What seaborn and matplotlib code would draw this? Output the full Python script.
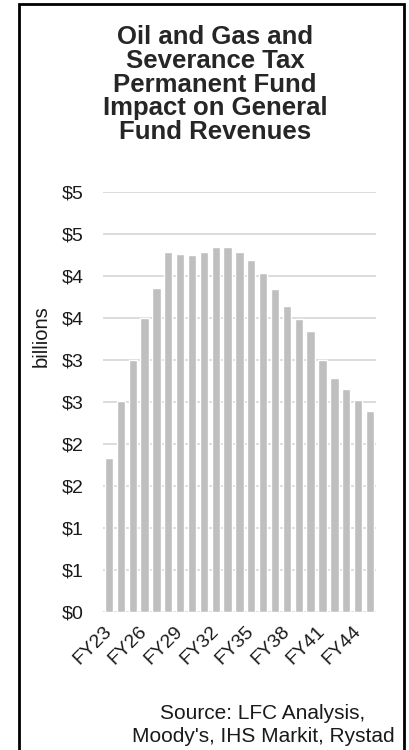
import math

import matplotlib.pyplot as plt
import matplotlib.patches as patches
from matplotlib.ticker import FuncFormatter
import pandas as pd
import seaborn as sns

years = ["FY" + str(y) for y in range(23, 46)]
revenue = [1.83, 2.51, 3.00, 3.50, 3.86, 4.29, 4.26, 4.25, 4.29, 4.34, 4.35, 4.29,
           4.19, 4.04, 3.84, 3.64, 3.49, 3.35, 3.00, 2.79, 2.65, 2.52, 2.39]
shown_years = ["FY23", "FY26", "FY29", "FY32", "FY35", "FY38", "FY41", "FY44"]

df = pd.DataFrame({"year": years, "revenue": revenue})

sns.set_style("white")
plt.rcParams["font.family"] = ["Liberation Sans", "DejaVu Sans"]

fig = plt.figure(figsize=(4.09, 7.5), dpi=100)
ax = fig.add_axes([0.252, 0.184, 0.667, 0.560])

sns.barplot(
    data=df,
    x="year",
    y="revenue",
    color="#BFBFBF",
    saturation=1,
    width=0.7,
    ax=ax
)

ax.set_ylim(0, 5)
ax.set_xlim(-0.5, len(years) - 0.5)
ax.set_yticks([i * 0.5 for i in range(11)])
# excel style rounding: 0.5 -> $1, 1.5 -> $2 ...
ax.yaxis.set_major_formatter(FuncFormatter(lambda v, p: "$" + str(int(math.floor(v + 0.5)))))
ax.grid(axis="y", color="#D9D9D9", linewidth=1.3)
ax.set_axisbelow(True)

ax.set_xticks(range(len(years)))
ax.set_xticklabels([y if y in shown_years else "" for y in years],
                   rotation=45, ha="right", va="center", rotation_mode="anchor")
ax.tick_params(axis="y", length=0, pad=14, labelsize=14, labelcolor="#1a1a1a")
ax.tick_params(axis="x", length=0, pad=12, labelsize=14, labelcolor="#1a1a1a")

for s in ax.spines.values():
    s.set_visible(False)

ax.set_xlabel("")
ax.set_ylabel("billions", fontsize=14.5, color="#1a1a1a", va="center")
ax.yaxis.set_label_coords(-0.227, 0.656)

fig.text(0.526, 0.966,
         "Oil and Gas and\nSeverance Tax\nPermanent Fund\nImpact on General\nFund Revenues",
         ha="center", va="top", fontsize=18.5, fontweight="bold", linespacing=0.98)

fig.text(0.643, 0.0333, "Source: LFC Analysis,\nMoody's, IHS Markit, Rystad",
         ha="center", va="center", fontsize=15, color="#1a1a1a", linespacing=1.3)

border = patches.Rectangle((19 / 409, -0.01), 385 / 409, 1.01 - 4 / 750,
                           transform=fig.transFigure, fill=False,
                           edgecolor="black", linewidth=2)
fig.patches.append(border)

fig.savefig("out.png", dpi=100)
